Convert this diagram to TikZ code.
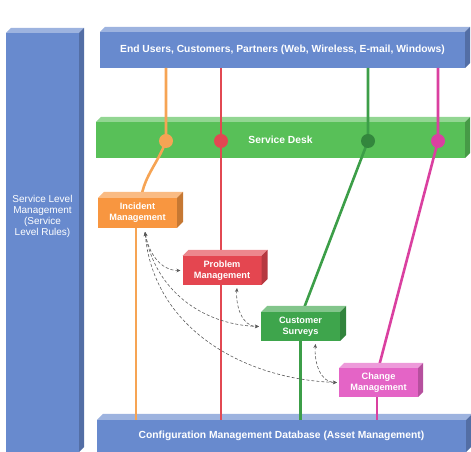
\documentclass[tikz,border=0pt]{standalone}
\usepackage{fontspec}
\setmainfont{Liberation Sans}
\usetikzlibrary{arrows.meta}

\definecolor{barblue}{RGB}{104,138,206}
\definecolor{deskgreen}{RGB}{88,192,88}
\definecolor{incorange}{RGB}{248,150,64}
\definecolor{probred}{RGB}{228,70,80}
\definecolor{survgreen}{RGB}{62,165,76}
\definecolor{chgpink}{RGB}{228,100,198}
\definecolor{lnorange}{RGB}{246,164,84}
\definecolor{lnred}{RGB}{226,72,82}
\definecolor{lngreen}{RGB}{60,158,72}
\definecolor{lnpink}{RGB}{218,64,160}

\pgfdeclarelayer{bars}
\pgfdeclarelayer{lines}
\pgfsetlayers{bars,lines,main}

% front face is the node, top and side faces drawn from its anchors
\newcommand\slabfaces[3]{%
  \fill[#2!65!white] (#1.north west) -- ++(#3,#3) -- ([shift={(#3,#3)}]#1.north east) -- (#1.north east) -- cycle;
  \fill[#2!80!black] (#1.north east) -- ++(#3,#3) -- ([shift={(#3,#3)}]#1.south east) -- (#1.south east) -- cycle;
}

\tikzset{
  slab/.style={fill=#1, text=white, font=\fontsize{10.3}{12}\selectfont\bfseries,
    align=center, inner sep=0pt, outer sep=0pt},
  unit/.style={slab=#1, minimum width=79pt, minimum height=29pt,
    font=\fontsize{9.2}{11}\selectfont\bfseries},
  link/.style={draw=#1, line width=2.6pt},
  hub/.style={circle, fill=#1, minimum size=14pt, inner sep=0pt},
  hop/.style={draw=black!65, line width=0.6pt, dash pattern=on 3pt off 2pt,
    {Stealth[length=4pt,width=3.5pt]}-{Stealth[length=4pt,width=3.5pt]}},
}

\begin{document}
\begin{tikzpicture}[x=1pt,y=1pt]
  \useasboundingbox (0,0) rectangle (471,452);

  \begin{pgfonlayer}{bars}
    \node[slab=barblue, minimum width=73pt, minimum height=419pt] (slm) at (42.5,209.5) {};
    \slabfaces{slm}{barblue}{5}
    \node[text=white, font=\fontsize{10}{10.8}\selectfont, align=center] (slmtext)
      at ([yshift=26pt]slm.center) {Service Level\\Management\\(Service\\Level Rules)};
    \node[slab=barblue, minimum width=365pt, minimum height=36pt] (users) at (282.5,402)
      {End Users, Customers, Partners (Web, Wireless, E-mail, Windows)};
    \slabfaces{users}{barblue}{5}
    \node[slab=deskgreen, minimum width=369pt, minimum height=36pt] (desk) at (280.5,312)
      {Service Desk};
    \slabfaces{desk}{deskgreen}{5}
    \node[slab=barblue, minimum width=369pt, minimum height=32pt] (cmdb) at (281.5,16)
      {Configuration Management Database (Asset Management)};
    \slabfaces{cmdb}{barblue}{6}
  \end{pgfonlayer}

  % process boxes
  \node[unit=incorange, minimum height=30pt] (inc) at (137.5,239) {Incident\\Management};
  \slabfaces{inc}{incorange}{6}
  \node[unit=probred] (prob) at (222,181.5) {Problem\\Management};
  \slabfaces{prob}{probred}{6}
  \node[unit=survgreen] (surv) at (300.5,125.5) {Customer\\Surveys};
  \slabfaces{surv}{survgreen}{6}
  \node[unit=chgpink] (chg) at (378.5,69.5) {Change\\Management};
  \slabfaces{chg}{chgpink}{5}

  % hubs on the service desk
  \node[hub=lnorange] (dinc) at (166,311) {};
  \node[hub=lnred] (dprob) at (221,311) {};
  \node[hub=lngreen!85!black] (dsurv) at (368,311) {};
  \node[hub=lnpink] (dchg) at (438,311) {};

  \begin{pgfonlayer}{lines}
    \draw[link=lnorange] (users.south -| dinc) -- (dinc.center)
      to[out=-110,in=80] ([xshift=3.5pt]inc.north);
    \draw[link=lnorange] ([xshift=-1.5pt]inc.south) -- ([xshift=-1.5pt]inc.south |- cmdb.north);
    \draw[link=lnred] (users.south -| dprob) -- (dprob |- cmdb.north);
    \draw[link=lngreen] (users.south -| dsurv) -- (dsurv.center) -- ([xshift=2pt]surv.north);
    \draw[link=lngreen] (surv.south) -- (surv.south |- cmdb.north);
    \draw[link=lnpink] (users.south -| dchg) -- (dchg.center) -- (chg.north);
    \draw[link=lnpink] ([xshift=-1.5pt]chg.south) -- ([xshift=-1.5pt]chg.south |- cmdb.north);
  \end{pgfonlayer}

  % feedback between the processes
  \draw[hop] ([shift={(7.5pt,-4pt)}]inc.south) to[out=-80,in=180] ([xshift=-2pt]prob.west);
  \draw[hop] ([shift={(7.5pt,-4pt)}]inc.south) to[out=-80,in=178] ([xshift=-2pt]surv.west);
  \draw[hop] ([shift={(7.5pt,-4pt)}]inc.south) to[out=-85,in=178] ([xshift=-2pt]chg.west);
  \draw[hop] ([shift={(15pt,-3pt)}]prob.south) to[out=-95,in=180] ([xshift=-2pt]surv.west);
  \draw[hop] ([shift={(15pt,-3pt)}]surv.south) to[out=-95,in=180] ([xshift=-2pt]chg.west);
\end{tikzpicture}
\end{document}
